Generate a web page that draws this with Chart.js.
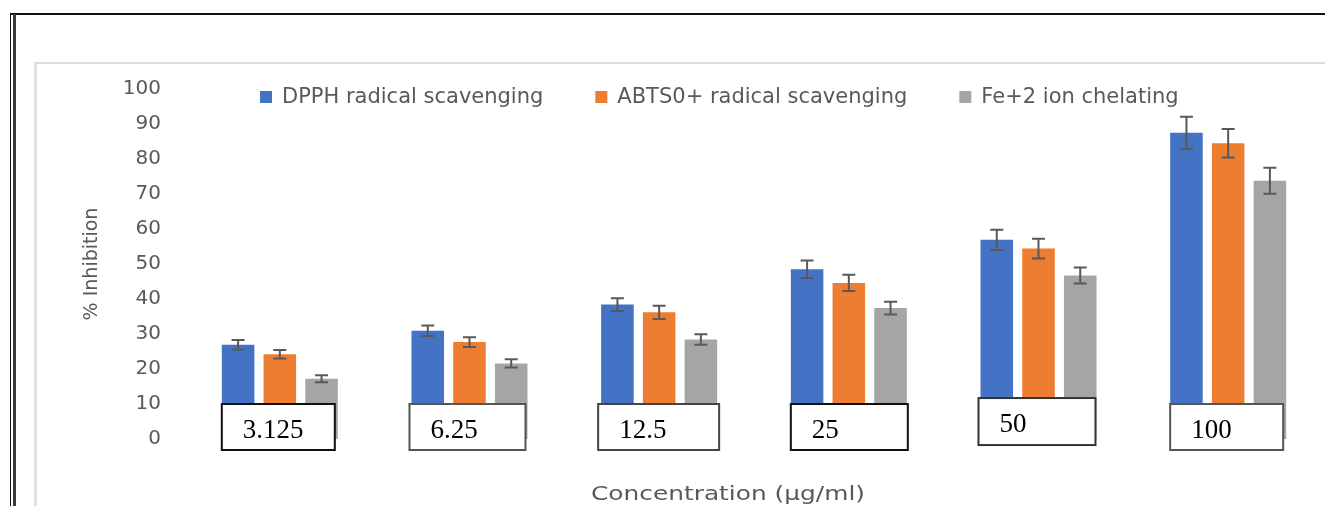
<!DOCTYPE html>
<html>
<head>
<meta charset="utf-8">
<title>% Inhibition vs concentration</title>
<script src="https://cdn.jsdelivr.net/npm/chart.js@4.4.0/dist/chart.umd.min.js"></script>
<style>
  body { margin: 0; background: #fff; }
  #wrap { position: relative; width: 1325px; height: 506px; overflow: hidden; }
  .ln { position: absolute; }
  canvas { position: absolute; left: 0; top: 0; }
</style>
</head>
<body>
<div id="wrap">
  <!-- page frame around the pasted figure -->
  <div class="ln" style="left:10px;top:13px;width:1315px;height:2px;background:#111"></div>
  <div class="ln" style="left:10px;top:13px;width:1px;height:493px;background:#111"></div>
  <div class="ln" style="left:13px;top:14px;width:3px;height:492px;background:#3a3a3a"></div>
  <div class="ln" style="left:34px;top:62px;width:3px;height:444px;background:#e0e0e0"></div>
  <div class="ln" style="left:34px;top:62px;width:1291px;height:2px;background:#dcdcdc"></div>
  <canvas id="chart" width="1325" height="506"></canvas>
</div>

<script>
// Data
const categories = ['3.125', '6.25', '12.5', '25', '50', '100'];
const seriesNames = ['DPPH radical scavenging', 'ABTS0+ radical scavenging', 'Fe+2 ion chelating'];

const dpph = [26.9, 30.9, 38.4, 48.5, 56.9, 87.5];
const abts = [24.2, 27.7, 36.2, 44.6, 54.4, 84.5];
const fe   = [17.2, 21.6, 28.4, 37.4, 46.7, 73.8];

const dpphErr = [1.4, 1.5, 1.8, 2.5, 2.9, 4.6];
const abtsErr = [1.2, 1.4, 1.9, 2.3, 2.8, 4.1];
const feErr   = [1.0, 1.2, 1.5, 1.8, 2.3, 3.7];

const yTicks = [0, 10, 20, 30, 40, 50, 60, 70, 80, 90, 100];
const xTitle = 'Concentration (µg/ml)';

// Styles
const colors = ['#4472C4', '#ED7D31', '#A5A5A5'];
const errors = [dpphErr, abtsErr, feErr];
const textGray = '#595959';

// Label boxes pasted over the category axis (offsets from the category centre)
const boxOffset = [-58, -60, -61, -58, -60, -58];
const boxWidth  = [113, 116, 121, 117, 117, 113];
const boxTop    = [10, 10, 10, 10, 11.7, 10];
const boxHeight = [46, 46, 46, 46, 47, 46];
const boxEdge   = ['#111', '#555', '#444', '#111', '#333', '#555'];

// Error bars
const errorBars = {
    id: 'errorBars',
    afterDatasetsDraw(chart) {
        const ctx = chart.ctx;
        const y = chart.scales.y;
        ctx.save();
        ctx.strokeStyle = '#595959';
        ctx.lineWidth = 2;
        chart.data.datasets.forEach((ds, i) => {
            chart.getDatasetMeta(i).data.forEach((bar, j) => {
                const v = ds.data[j];
                const e = errors[i][j];
                const top = y.getPixelForValue(v + e);
                const bot = y.getPixelForValue(v - e);
                ctx.beginPath();
                ctx.moveTo(bar.x, top);
                ctx.lineTo(bar.x, bot);
                ctx.moveTo(bar.x - 6.5, top);
                ctx.lineTo(bar.x + 6.5, top);
                ctx.moveTo(bar.x - 6.5, bot);
                ctx.lineTo(bar.x + 6.5, bot);
                ctx.stroke();
            });
        });
        ctx.restore();
    }
};

// Boxed category labels
const categoryBoxes = {
    id: 'categoryBoxes',
    afterDatasetsDraw(chart) {
        const ctx = chart.ctx;
        const xs = chart.scales.x;
        const ys = chart.scales.y;
        ctx.save();
        ctx.font = '27px "Liberation Serif"';
        ctx.textBaseline = 'alphabetic';
        categories.forEach((c, i) => {
            const left = xs.getPixelForValue(i) + boxOffset[i];
            const top = ys.getPixelForValue(boxTop[i]);
            ctx.fillStyle = '#fff';
            ctx.fillRect(left, top, boxWidth[i], boxHeight[i]);
            ctx.strokeStyle = boxEdge[i];
            ctx.lineWidth = 2;
            ctx.strokeRect(left, top, boxWidth[i], boxHeight[i]);
            ctx.fillStyle = '#000';
            ctx.fillText(c, left + 21, top + 34);
        });
        ctx.restore();
    }
};

// Legend inside the plot area (top) and the x-axis title, slightly left of centre
const topLegend = {
    id: 'topLegend',
    afterDraw(chart) {
        const ctx = chart.ctx;
        const area = chart.chartArea;
        ctx.save();
        ctx.font = '21px "DejaVu Sans"';
        ctx.textBaseline = 'middle';
        let x = area.left + 75;
        const y = area.top + 8;
        chart.data.datasets.forEach(ds => {
            ctx.fillStyle = ds.backgroundColor;
            ctx.fillRect(x, y - 6, 12, 12);
            ctx.fillStyle = textGray;
            ctx.fillText(ds.label, x + 22, y + 1);
            x += 22 + ctx.measureText(ds.label).width + 52;
        });

        // x title, drawn wide like the original
        ctx.font = '20px "DejaVu Sans"';
        const w = ctx.measureText(xTitle).width;
        const sx = 274 / w;
        const cx = (area.left + area.right) / 2 - 26;
        ctx.translate(cx - 137, area.bottom + 56);
        ctx.scale(sx, 1);
        ctx.textAlign = 'left';
        ctx.fillText(xTitle, 0, 0);
        ctx.restore();
    }
};

new Chart(document.getElementById('chart'), {
    type: 'bar',
    data: {
        labels: categories,
        datasets: [dpph, abts, fe].map((d, i) => ({
            label: seriesNames[i],
            data: d,
            backgroundColor: colors[i],
            borderWidth: 0,
            categoryPercentage: 0.66,
            barPercentage: 0.78
        }))
    },
    options: {
        responsive: false,
        animation: false,
        devicePixelRatio: 1,
        layout: {
            padding: { left: 79, top: 89, right: 2, bottom: 67 }
        },
        plugins: {
            legend: { display: false },
            tooltip: { enabled: false }
        },
        scales: {
            x: {
                grid: { display: false, drawTicks: false },
                border: { display: false },
                ticks: { display: false }
            },
            y: {
                min: 0,
                max: 100,
                afterBuildTicks: axis => { axis.ticks = yTicks.map(v => ({ value: v })); },
                grid: { display: false, drawTicks: false },
                border: { display: false },
                ticks: {
                    color: textGray,
                    padding: 24,
                    font: { family: 'DejaVu Sans', size: 20 }
                },
                title: {
                    display: true,
                    text: '% Inhibition',
                    color: textGray,
                    font: { family: 'DejaVu Sans', size: 19 },
                    padding: { top: 2, bottom: -5 }
                }
            }
        }
    },
    plugins: [errorBars, categoryBoxes, topLegend]
});
</script>
</body>
</html>
